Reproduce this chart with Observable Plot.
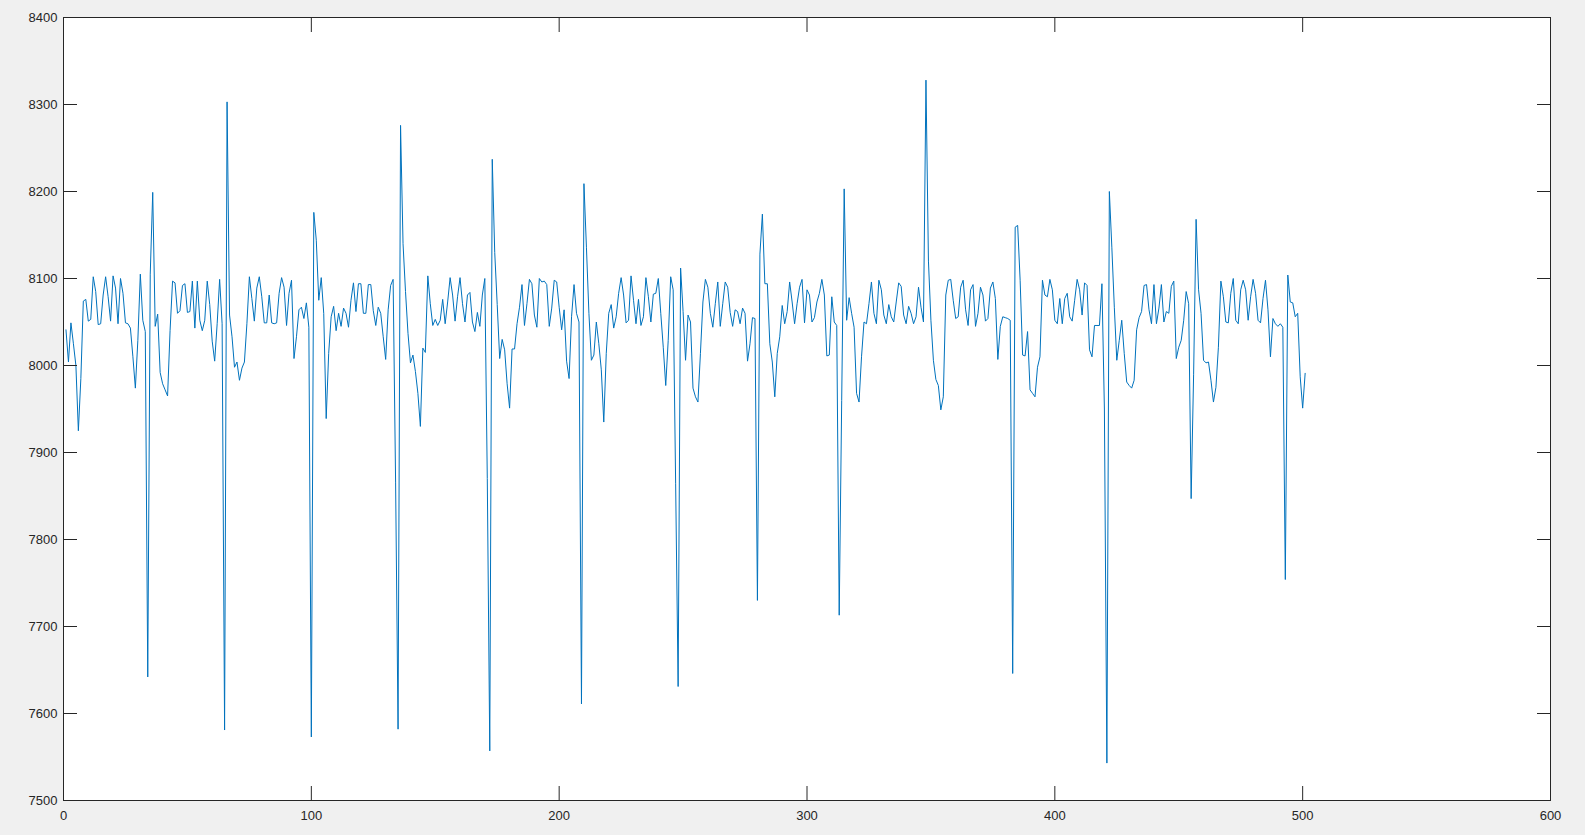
<!DOCTYPE html>
<html>
<head>
<meta charset="utf-8">
<script src="https://cdn.jsdelivr.net/npm/d3@7"></script>
<script src="https://cdn.jsdelivr.net/npm/@observablehq/plot@0.6"></script>
<style>
  html, body { margin: 0; padding: 0; background: #f0f0f0; }
  #chart svg { display: block; }
</style>
</head>
<body>
<div id="chart"></div>
<script>
// Sample values, x = 1 .. 501
const signal = [
  8041,8004,8049,8025,8000,7925,7985,8074,8076,8051,
  8053,8102,8085,8047,8048,8081,8102,8079,8051,8103,
  8089,8048,8100,8083,8049,8048,8043,8010,7974,8029,
  8105,8052,8039,7642,8105,8199,8045,8059,7992,7979,
  7972,7965,8040,8097,8095,8060,8063,8092,8094,8061,
  8062,8097,8043,8097,8052,8040,8052,8097,8070,8028,
  8005,8048,8099,8048,7581,8303,8058,8033,7998,8004,
  7983,7997,8004,8048,8102,8077,8051,8089,8102,8079,
  8049,8049,8081,8049,8048,8049,8083,8101,8090,8046,
  8083,8098,8008,8033,8064,8067,8054,8072,8044,7573,
  8176,8144,8075,8101,8060,7939,8014,8056,8068,8040,
  8060,8045,8066,8060,8044,8075,8095,8062,8094,8094,
  8060,8060,8093,8093,8063,8046,8067,8060,8033,8007,
  8064,8092,8099,7866,7582,8276,8140,8085,8037,8003,
  8012,7993,7968,7930,8020,8015,8103,8071,8046,8053,
  8046,8052,8076,8048,8073,8101,8081,8051,8079,8101,
  8071,8050,8081,8084,8050,8039,8061,8045,8081,8100,
  7870,7557,8237,8130,8070,8008,8030,8018,7979,7951,
  8019,8019,8048,8067,8093,8046,8071,8099,8094,8058,
  8044,8100,8096,8097,8093,8045,8066,8098,8096,8067,
  8041,8064,8005,7985,8056,8093,8060,8050,7611,8209,
  8136,8060,8006,8012,8050,8025,7995,7935,8014,8060,
  8070,8043,8056,8083,8101,8081,8049,8052,8103,8075,
  8048,8076,8046,8056,8101,8079,8050,8082,8083,8100,
  8060,8021,7977,8029,8102,8087,7864,7631,8112,8062,
  8006,8058,8050,7974,7964,7958,8014,8073,8099,8090,
  8060,8044,8071,8096,8045,8071,8096,8090,8061,8045,
  8064,8062,8048,8066,8060,8005,8025,8055,8054,7730,
  8128,8174,8094,8094,8025,8004,7964,8014,8033,8069,
  8048,8062,8096,8073,8048,8071,8090,8099,8049,8087,
  8081,8050,8055,8073,8083,8099,8081,8011,8012,8079,
  8050,8046,7713,7960,8203,8052,8078,8060,8044,7968,
  7958,8010,8050,8048,8071,8096,8060,8048,8098,8087,
  8058,8048,8070,8056,8050,8073,8095,8091,8058,8048,
  8068,8060,8048,8056,8090,8067,8050,8328,8120,8052,
  8006,7984,7977,7949,7964,8081,8098,8099,8075,8054,
  8056,8090,8098,8064,8046,8087,8093,8045,8060,8090,
  8081,8051,8054,8089,8096,8077,8007,8045,8056,8055,
  8054,8052,7646,8159,8161,8098,8012,8011,8039,7972,
  7968,7964,7998,8010,8098,8081,8079,8099,8087,8052,
  8048,8077,8048,8077,8083,8056,8051,8075,8099,8087,
  8058,8095,8092,8018,8010,8046,8046,8046,8094,7950,
  7543,8200,8136,8067,8006,8029,8052,8014,7981,7977,
  7974,7983,8041,8055,8062,8092,8093,8064,8048,8093,
  8048,8066,8093,8050,8062,8060,8091,8097,8008,8021,
  8029,8052,8085,8071,7847,7990,8168,8087,8060,8006,
  8003,8004,7983,7958,7975,8021,8097,8079,8050,8049,
  8083,8100,8052,8048,8087,8098,8087,8052,8079,8099,
  8083,8052,8049,8077,8098,8064,8010,8054,8048,8045,
  8048,8044,7754,8104,8073,8072,8056,8060,7987,7951,
  7991
];
const xTicks = [0, 100, 200, 300, 400, 500, 600];
const yTicks = [7500, 7600, 7700, 7800, 7900, 8000, 8100, 8200, 8300, 8400];

const points = signal.map((v, i) => ({ x: i + 1, y: v }));
const ink = "#262626";
const blank = () => "";

const chart = Plot.plot({
  width: 1585,
  height: 835,
  marginLeft: 63,
  marginTop: 17,
  marginRight: 35,
  marginBottom: 35,
  style: {
    background: "transparent",
    fontFamily: "'Liberation Sans', Arial, Helvetica, sans-serif",
    fontSize: "13px",
    color: ink
  },
  x: { domain: [0, 600] },
  y: { domain: [7500, 8400] },
  marks: [
    Plot.frame({ fill: "white", stroke: "none" }),
    Plot.line(points, { x: "x", y: "y", stroke: "#0072BD", strokeWidth: 1 }),
    // inward tick marks on all four sides
    Plot.axisX(xTicks, { anchor: "bottom", tickSize: -14, tickFormat: blank, label: null, stroke: ink }),
    Plot.axisX(xTicks, { anchor: "top", tickSize: -14, tickFormat: blank, label: null, stroke: ink }),
    Plot.axisY(yTicks, { anchor: "left", tickSize: -14, tickFormat: blank, label: null, stroke: ink }),
    Plot.axisY(yTicks, { anchor: "right", tickSize: -14, tickFormat: blank, label: null, stroke: ink }),
    // tick labels
    Plot.axisX(xTicks, { anchor: "bottom", tickSize: 0, tickPadding: 10, label: null, fill: ink, tickFormat: d => String(d) }),
    Plot.axisY(yTicks, { anchor: "left", tickSize: 0, tickPadding: 6, label: null, fill: ink, tickFormat: d => String(d) }),
    Plot.frame({ stroke: ink, strokeWidth: 1 })
  ]
});
document.getElementById("chart").appendChild(chart);
</script>
</body>
</html>
